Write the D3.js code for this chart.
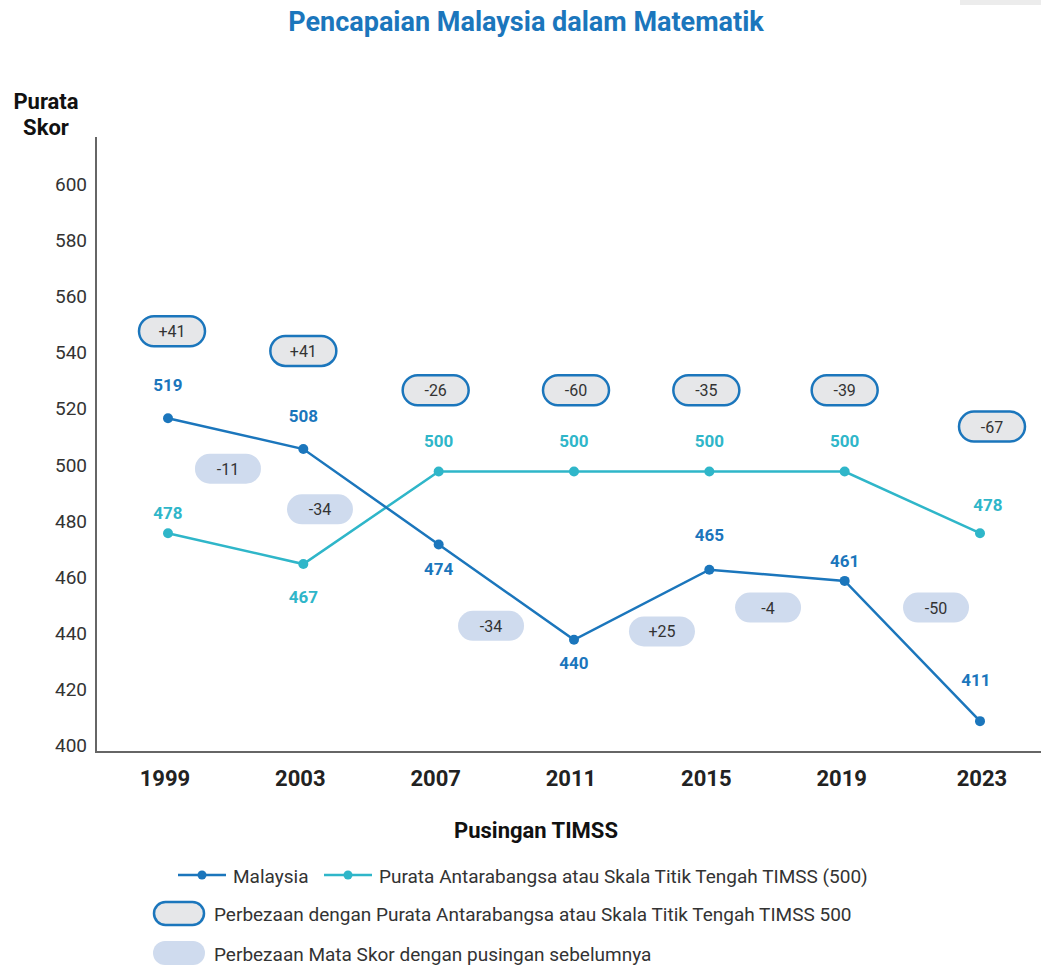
<!DOCTYPE html>
<html>
<head>
<meta charset="utf-8">
<script src="https://cdn.jsdelivr.net/npm/d3@7"></script>
<style>
  body { margin: 0; background: #fff; }
  svg { display: block; font-family: Roboto, "Noto Sans", sans-serif; }
</style>
</head>
<body>
<svg id="chart" width="1041" height="967"></svg>
<script>
// data
const years = ["1999", "2003", "2007", "2011", "2015", "2019", "2023"];
const malaysia = [519, 508, 474, 440, 465, 461, 411];
const intl = [478, 467, 500, 500, 500, 500, 478];
const gapToIntl = ["+41", "+41", "-26", "-60", "-35", "-39", "-67"];
const changeFromPrev = ["-11", "-34", "-34", "+25", "-4", "-50"];
const yTicks = [400, 420, 440, 460, 480, 500, 520, 540, 560, 580, 600];

// layout for annotations (score level / fractional round index / px nudges)
const gapLevel = [550, 543, 529, 529, 529, 529, 516];
const gapShift = [4, 0, -3, 2, -3, 0, 12];
const changePos = [0.443, 1.123, 2.387, 3.65, 4.434, 5.675];
const changeLevel = [501, 486.5, 445, 443, 451.5, 451.5];
const malLabelDy = [-27, -27, 31, 29, -29, -14, -35];
const intlLabelDy = [-14, 39, -25, -25, -25, -25, -22];

const blue = "#1b76bc";
const teal = "#2fb6c9";
const txt = "#333";

const svg = d3.select("#chart");

const x = d3.scalePoint().domain(years).range([168, 980]);
const y = d3.scaleLinear().domain([400, 600]).range([752, 191]);
const xi = i => 168 + i * x.step();

// faint header shape top right
svg.append("rect").attr("x", 960).attr("y", 0).attr("width", 81).attr("height", 5).attr("fill", "#ececec");

// title
svg.append("text")
   .attr("x", 526).attr("y", 31)
   .attr("text-anchor", "middle")
   .attr("fill", blue)
   .attr("font-weight", "bold")
   .style("font-size", "27px")
   .text("Pencapaian Malaysia dalam Matematik");

// y axis title
svg.append("text")
   .attr("x", 46).attr("y", 109)
   .attr("text-anchor", "middle")
   .attr("font-weight", "bold")
   .attr("fill", "#111")
   .style("font-size", "22px")
   .call(t => t.append("tspan").attr("x", 46).text("Purata"))
   .call(t => t.append("tspan").attr("x", 46).attr("dy", 26).text("Skor"));

// axes
svg.append("line").attr("x1", 96).attr("x2", 96).attr("y1", 137).attr("y2", 752)
   .attr("stroke", "#666").attr("stroke-width", 2);
svg.append("line").attr("x1", 95).attr("x2", 1041).attr("y1", 752).attr("y2", 752)
   .attr("stroke", "#666").attr("stroke-width", 2);

svg.append("g")
   .selectAll("text")
   .data(yTicks)
   .join("text")
   .attr("x", 87)
   .attr("y", d => y(d))
   .attr("text-anchor", "end")
   .attr("fill", txt)
   .style("font-size", "19px")
   .text(d => d);

svg.append("g")
   .selectAll("text")
   .data(years)
   .join("text")
   .attr("x", d => x(d) - (d === "2023" ? -2 : 3))
   .attr("y", 786)
   .attr("text-anchor", "middle")
   .attr("font-weight", "bold")
   .attr("fill", "#222")
   .style("font-size", "22px")
   .text(d => d);

svg.append("text")
   .attr("x", 536).attr("y", 838)
   .attr("text-anchor", "middle")
   .attr("font-weight", "bold")
   .attr("fill", "#111")
   .style("font-size", "22px")
   .text("Pusingan TIMSS");

// lines
const line = d3.line().x((d, i) => x(years[i])).y(d => y(d));

function drawSeries(vals, color) {
  svg.append("path").datum(vals)
     .attr("d", line)
     .attr("fill", "none")
     .attr("stroke", color)
     .attr("stroke-width", 2.5);
  svg.append("g").selectAll("circle")
     .data(vals)
     .join("circle")
     .attr("cx", (d, i) => x(years[i]))
     .attr("cy", d => y(d))
     .attr("r", 5)
     .attr("fill", color);
}
drawSeries(intl, teal);
drawSeries(malaysia, blue);

// value labels
function drawLabels(vals, dys, color, lastShift) {
  svg.append("g").selectAll("text")
     .data(vals)
     .join("text")
     .attr("x", (d, i) => x(years[i]) + (i === vals.length - 1 ? lastShift : 0))
     .attr("y", (d, i) => y(d) + dys[i])
     .attr("text-anchor", "middle")
     .attr("font-weight", "bold")
     .attr("fill", color)
     .style("font-size", "17px")
     .text(d => d);
}
drawLabels(malaysia, malLabelDy, blue, -4);
drawLabels(intl, intlLabelDy, teal, 8);

// pills
function pill(g, cx, cy, label, outlined) {
  const w = 66, h = 30;
  g.append("rect")
   .attr("x", cx - w / 2).attr("y", cy - h / 2)
   .attr("width", w).attr("height", h)
   .attr("rx", h / 2)
   .attr("fill", outlined ? "#e6e7e9" : "#cfdbee")
   .attr("stroke", outlined ? blue : "none")
   .attr("stroke-width", 2.5);
  g.append("text")
   .attr("x", cx).attr("y", cy + 6)
   .attr("text-anchor", "middle")
   .attr("fill", txt)
   .style("font-size", "16px")
   .text(label);
}

const gaps = svg.append("g");
gapToIntl.forEach((d, i) => pill(gaps, x(years[i]) + gapShift[i], y(gapLevel[i]), d, true));

const changes = svg.append("g");
changeFromPrev.forEach((d, i) => pill(changes, xi(changePos[i]), y(changeLevel[i]), d, false));

// legend
const legend = svg.append("g").style("font-size", "19px").attr("fill", txt);
function legendLine(x0, color, label) {
  legend.append("line").attr("x1", x0).attr("x2", x0 + 48).attr("y1", 875).attr("y2", 875)
        .attr("stroke", color).attr("stroke-width", 2.5);
  legend.append("circle").attr("cx", x0 + 24).attr("cy", 875).attr("r", 4.5).attr("fill", color);
  legend.append("text").attr("x", x0 + 55).attr("y", 883).text(label);
}
legendLine(178, blue, "Malaysia");
legendLine(324, teal, "Purata Antarabangsa atau Skala Titik Tengah TIMSS (500)");

legend.append("rect").attr("x", 154).attr("y", 902).attr("width", 50).attr("height", 23).attr("rx", 11.5)
      .attr("fill", "#e6e7e9").attr("stroke", blue).attr("stroke-width", 2.5);
legend.append("text").attr("x", 214).attr("y", 921)
      .text("Perbezaan dengan Purata Antarabangsa atau Skala Titik Tengah TIMSS 500");
legend.append("rect").attr("x", 153).attr("y", 941).attr("width", 52).attr("height", 24).attr("rx", 12)
      .attr("fill", "#cfdbee");
legend.append("text").attr("x", 214).attr("y", 961)
      .text("Perbezaan Mata Skor dengan pusingan sebelumnya");
</script>
</body>
</html>
